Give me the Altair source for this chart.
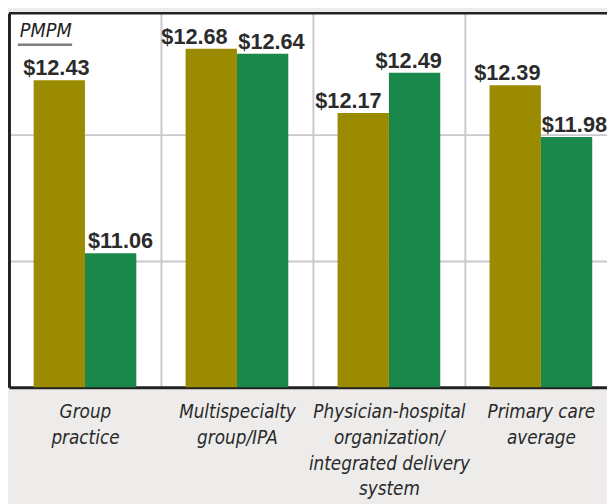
import altair as alt
import pandas as pd

# ---- data ----
categories = [
    "Group\npractice",
    "Multispecialty\ngroup/IPA",
    "Physician-hospital\norganization/\nintegrated delivery\nsystem",
    "Primary care\naverage",
]
series = ["Series 1", "Series 2"]
series1_values = [12.43, 12.68, 12.17, 12.39]
series2_values = [11.06, 12.64, 12.49, 11.98]
series_colors = ["#9b8b00", "#1b884b"]
y_domain = [10, 12.96]
grid_values = [11, 12]
unit_label = "PMPM"

rows = []
for cat, a, b in zip(categories, series1_values, series2_values):
    rows.append({"category": cat, "series": series[0], "value": a, "label": f"${a:.2f}"})
    rows.append({"category": cat, "series": series[1], "value": b, "label": f"${b:.2f}"})
df = pd.DataFrame(rows)

# horizontal nudges of the value labels (style, as placed in the reference)
label_nudge = [-3, 10, -17, 9, -15, -6, -8, 8]

W, H = 606, 379
BAND_RANGE = 616
NARROW = "'Liberation Sans Narrow', 'Arial Narrow', 'DejaVu Sans Condensed', 'Roboto Condensed', sans-serif"

x_scale = alt.Scale(domain=categories, range=[0, BAND_RANGE], paddingInner=0, paddingOuter=0)
x_enc = alt.X(
    "category:N",
    sort=categories,
    scale=x_scale,
    axis=alt.Axis(
        title=None,
        labelExpr="split(datum.label, '\\n')",
        labelFont=NARROW,
        labelFontStyle="italic",
        labelFontSize=19,
        labelLineHeight=26,
        labelColor="#2a2a2a",
        labelPadding=16,
        labelAngle=0,
        labelLimit=0,
        labelOverlap=False,
        labelFlush=False,
        ticks=False,
        grid=True,
        tickBand="extent",
        gridColor="#c9c8cc",
        gridWidth=2,
        domain=True,
        domainColor="#222222",
        domainWidth=3,
    ),
)
xoff_enc = alt.XOffset("series:N", sort=series, scale=alt.Scale(paddingOuter=0.48, paddingInner=0))
y_enc = alt.Y(
    "value:Q",
    scale=alt.Scale(domain=y_domain, nice=False, zero=False),
    axis=alt.Axis(
        title=None,
        values=grid_values,
        labels=False,
        ticks=False,
        grid=True,
        gridColor="#c9c8cc",
        gridWidth=2,
        domain=True,
        domainColor="#222222",
        domainWidth=3,
    ),
)

base = alt.Chart(df)

bars = base.mark_bar(strokeWidth=0).encode(
    x=x_enc,
    xOffset=xoff_enc,
    y=y_enc,
    y2=alt.datum(y_domain[0]),
    color=alt.Color("series:N", sort=series, scale=alt.Scale(domain=series, range=series_colors), legend=None),
)

label_layers = []
for i in range(len(df)):
    label_layers.append(
        base.transform_filter(
            (alt.datum.category == df["category"][i]) & (alt.datum.series == df["series"][i])
        )
        .mark_text(
            font="'Liberation Sans', Arial, sans-serif",
            fontWeight="bold",
            fontSize=22,
            color="#2b2b2b",
            baseline="alphabetic",
            align="center",
            dy=-5,
            dx=label_nudge[i],
        )
        .encode(
            x=alt.X("category:N", sort=categories),
            xOffset=alt.XOffset("series:N", sort=series),
            y=alt.Y("value:Q"),
            text="label:N",
        )
    )

one = pd.DataFrame({"t": [unit_label]})
top_border = alt.Chart(one).mark_rule(color="#222222", strokeWidth=2.5).encode(
    x=alt.value(0), x2=alt.value(BAND_RANGE), y=alt.value(0)
)
unit_text = alt.Chart(one).mark_text(
    font=NARROW,
    fontStyle="italic",
    fontSize=20,
    color="#222222",
    align="left",
    baseline="alphabetic",
).encode(x=alt.value(11), y=alt.value(24), text="t:N")
unit_rule = alt.Chart(one).mark_rule(color="#7f7f7f", strokeWidth=2.5).encode(
    x=alt.value(9), x2=alt.value(64), y=alt.value(32)
)

chart = (
    alt.layer(bars, *label_layers, top_border, unit_text, unit_rule)
    .properties(
        width=W,
        height=H,
        autosize=alt.AutoSizeParams(type="none"),
        padding={"left": 1, "top": 2, "right": 0, "bottom": 118},
        background="#edecea",
    )
    .configure_view(fill="white", stroke=None)
)

chart.save("out.html", embed_options={"renderer": "svg", "actions": False})
